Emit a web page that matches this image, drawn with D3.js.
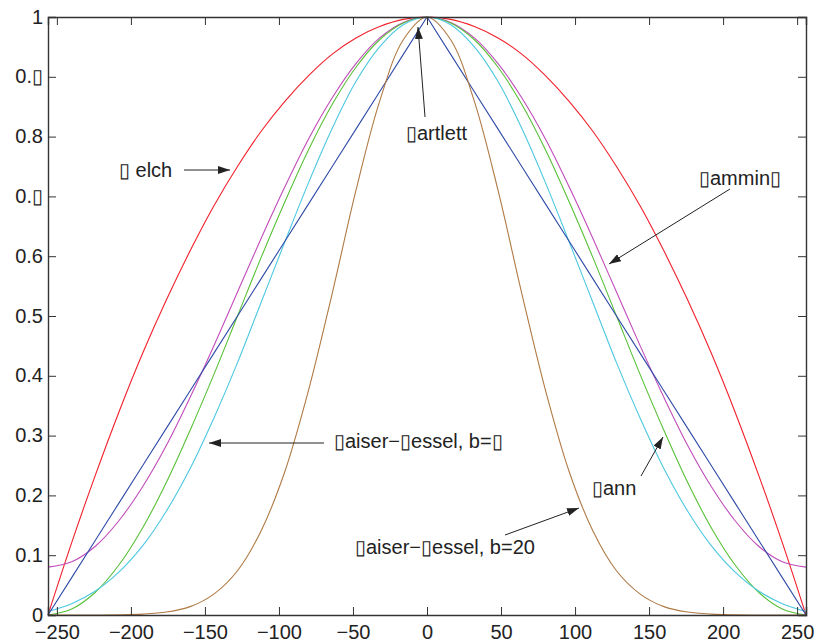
<!DOCTYPE html>
<html>
<head>
<meta charset="utf-8">
<script src="https://cdn.jsdelivr.net/npm/d3@7.9.0/dist/d3.min.js"></script>
<style>
  body { margin: 0; background: #fff; }
  svg { display: block; font-family: "Liberation Sans", Arial, sans-serif; }
</style>
</head>
<body>
<svg width="814" height="644"></svg>
<script>
// sample positions (n)
const xs = [-256, -240, -224, -208, -192, -176, -160, -144, -128, -112, -96, -80, -64, -48, -32, -16,
  0, 16, 32, 48, 64, 80, 96, 112, 128, 144, 160, 176, 192, 208, 224, 240, 256];

const welch = [0, 0.121, 0.234, 0.340, 0.438, 0.527, 0.609, 0.684, 0.750, 0.809, 0.859, 0.902, 0.938, 0.965, 0.984, 0.996,
  1, 0.996, 0.984, 0.965, 0.938, 0.902, 0.859, 0.809, 0.750, 0.684, 0.609, 0.527, 0.438, 0.340, 0.234, 0.121, 0];
const bartlett = [0, 0.0625, 0.125, 0.1875, 0.25, 0.3125, 0.375, 0.4375, 0.5, 0.5625, 0.625, 0.6875, 0.75, 0.8125, 0.875, 0.9375,
  1, 0.9375, 0.875, 0.8125, 0.75, 0.6875, 0.625, 0.5625, 0.5, 0.4375, 0.375, 0.3125, 0.25, 0.1875, 0.125, 0.0625, 0];
const hamming = [0.08, 0.089, 0.115, 0.158, 0.215, 0.284, 0.364, 0.450, 0.540, 0.630, 0.716, 0.796, 0.865, 0.922, 0.965, 0.991,
  1, 0.991, 0.965, 0.922, 0.865, 0.796, 0.716, 0.630, 0.540, 0.450, 0.364, 0.284, 0.215, 0.158, 0.115, 0.089, 0.08];
const hann = [0, 0.010, 0.038, 0.084, 0.146, 0.222, 0.309, 0.402, 0.500, 0.598, 0.691, 0.778, 0.854, 0.916, 0.962, 0.990,
  1, 0.990, 0.962, 0.916, 0.854, 0.778, 0.691, 0.598, 0.500, 0.402, 0.309, 0.222, 0.146, 0.084, 0.038, 0.010, 0];
const kaiser7 = [0.006, 0.019, 0.040, 0.072, 0.116, 0.174, 0.245, 0.329, 0.422, 0.523, 0.624, 0.723, 0.814, 0.892, 0.950, 0.987,
  1, 0.987, 0.950, 0.892, 0.814, 0.723, 0.624, 0.523, 0.422, 0.329, 0.245, 0.174, 0.116, 0.072, 0.040, 0.019, 0.006];
const kaiser20 = [0, 0, 0.00005, 0.0003, 0.0014, 0.0049, 0.014, 0.035, 0.074, 0.141, 0.240, 0.376, 0.538, 0.710, 0.859, 0.962,
  1, 0.962, 0.859, 0.710, 0.538, 0.376, 0.240, 0.141, 0.074, 0.035, 0.014, 0.0049, 0.0014, 0.0003, 0.00005, 0, 0];

const xTicks = [-250, -200, -150, -100, -50, 0, 50, 100, 150, 200, 250];
const yTicks = [0, 0.1, 0.2, 0.3, 0.4, 0.5, 0.6, 0.7, 0.8, 0.9, 1];
const yTickLabels = ["0", "0.1", "0.2", "0.3", "0.4", "0.5", "0.6", "0.\u25AF", "0.8", "0.\u25AF", "1"];

const series = [
  { name: "Welch", values: welch, color: "#f2202a", curve: d3.curveCatmullRom },
  { name: "Hamming", values: hamming, color: "#c04cba", curve: d3.curveCatmullRom },
  { name: "Hann", values: hann, color: "#58c038", curve: d3.curveCatmullRom },
  { name: "Kaiser-Bessel 7", values: kaiser7, color: "#4cc8e0", curve: d3.curveCatmullRom },
  { name: "Bartlett", values: bartlett, color: "#2f4aa8", curve: d3.curveLinear },
  { name: "Kaiser-Bessel 20", values: kaiser20, color: "#b07a45", curve: d3.curveCatmullRom }
];

const annotations = [
  { text: "\u25AF elch", tx: 119, ty: 177, from: [184, 170], to: [230, 170] },
  { text: "\u25AFartlett", tx: 406, ty: 140, from: [425, 117], to: [418, 27] },
  { text: "\u25AFammin\u25AF", tx: 699, ty: 185, from: [730, 189], to: [609, 264] },
  { text: "\u25AFaiser\u2212\u25AFessel, b=\u25AF", tx: 334, ty: 448, from: [324, 443], to: [209, 443] },
  { text: "\u25AFann", tx: 592, ty: 495, from: [641, 476], to: [663, 437] },
  { text: "\u25AFaiser\u2212\u25AFessel, b=20", tx: 355, ty: 554, from: [505, 535], to: [579, 508] }
];

const plotLeft = 48, plotRight = 806, plotTop = 17, plotBottom = 615;
const fontSize = 20;
const svg = d3.select("svg");

const x = d3.scaleLinear().domain([-256, 256]).range([plotLeft, plotRight]);
const y = d3.scaleLinear().domain([0, 1]).range([plotBottom, plotTop]);

// curves
const plot = svg.append("g");
series.forEach((s) => {
  const line = d3.line()
    .x((d, i) => x(xs[i]))
    .y((d) => y(d))
    .curve(s.curve);
  plot.append("path")
    .datum(s.values)
    .attr("fill", "none")
    .attr("stroke", s.color)
    .attr("stroke-width", 1.1)
    .attr("d", line);
});

// axes (box with inward ticks on all four sides)
const tickLen = 8;
const axisColor = "#333";

const xAxisB = svg.append("g")
  .attr("transform", `translate(0,${plotBottom})`)
  .call(d3.axisBottom(x).tickValues(xTicks).tickSize(-tickLen).tickPadding(10)
    .tickFormat((d) => d < 0 ? "\u2212" + Math.abs(d) : d));
const xAxisT = svg.append("g")
  .attr("transform", `translate(0,${plotTop})`)
  .call(d3.axisTop(x).tickValues(xTicks).tickSize(-tickLen).tickFormat(""));
const yAxisL = svg.append("g")
  .attr("transform", `translate(${plotLeft},0)`)
  .call(d3.axisLeft(y).tickValues(yTicks).tickSize(-tickLen).tickPadding(5)
    .tickFormat((d, i) => yTickLabels[i]));
const yAxisR = svg.append("g")
  .attr("transform", `translate(${plotRight},0)`)
  .call(d3.axisRight(y).tickValues(yTicks).tickSize(-tickLen).tickFormat(""));

[xAxisB, xAxisT, yAxisL, yAxisR].forEach((g) => {
  g.select(".domain").attr("stroke", axisColor).attr("stroke-width", 1.4);
  g.selectAll(".tick line").attr("stroke", axisColor).attr("stroke-width", 1);
  g.selectAll(".tick text").attr("fill", "#222").attr("font-size", fontSize)
    .attr("font-family", "Liberation Sans, Arial, sans-serif");
});
yAxisL.selectAll(".tick text").attr("dy", "0.3em");

// annotations
svg.append("defs").append("marker")
  .attr("id", "arrow")
  .attr("viewBox", "0 0 12 8")
  .attr("refX", 12)
  .attr("refY", 4)
  .attr("markerWidth", 12)
  .attr("markerHeight", 8)
  .attr("markerUnits", "userSpaceOnUse")
  .attr("orient", "auto")
  .append("path")
  .attr("d", "M0,0 L12,4 L0,8 Z")
  .attr("fill", "#222");

const ann = svg.append("g");
annotations.forEach((a) => {
  ann.append("line")
    .attr("x1", a.from[0]).attr("y1", a.from[1])
    .attr("x2", a.to[0]).attr("y2", a.to[1])
    .attr("stroke", "#222")
    .attr("stroke-width", 1)
    .attr("marker-end", "url(#arrow)");
  ann.append("text")
    .attr("x", a.tx)
    .attr("y", a.ty)
    .attr("font-size", fontSize)
    .attr("fill", "#222")
    .text(a.text);
});
</script>
</body>
</html>
